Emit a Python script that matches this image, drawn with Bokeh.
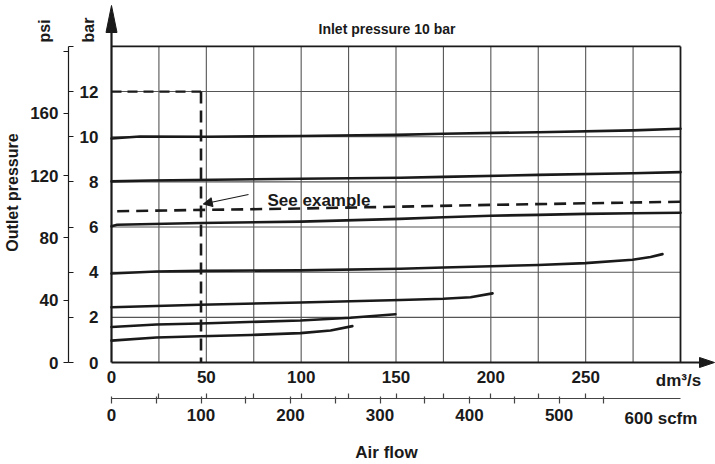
import math
from bokeh.plotting import figure
from bokeh.models import Range1d, LinearAxis, FixedTicker, Label, Arrow, NormalHead
from bokeh.embed import file_html
from bokeh.resources import INLINE

# ---------------- data ----------------
flow_label_ticks = [0, 50, 100, 150, 200, 250]              # dm3/s
flow_grid = [25, 50, 75, 100, 125, 150, 175, 200, 225, 250, 275]
flow_max = 300
bar_grid = [2, 4, 6, 8, 10, 12]
bar_ticks = [0, 2, 4, 6, 8, 10, 12, 14]
bar_label_ticks = [0, 2, 4, 6, 8, 10, 12]
bar_max = 14
psi_ticks = [0, 40, 80, 120, 160, 200]
scfm_ticks = [0, 50, 100, 150, 200, 250, 300, 350, 400, 450, 500, 550]
scfm_label_ticks = [0, 100, 200, 300, 400, 500]
PSI_PER_BAR = 14.5038
SCFM_PER_DM3S = 2.11888

# outlet pressure curves (x: dm3/s, y: bar)
c10_x = [0, 15, 50, 100, 150, 175, 225, 275, 300]
c10_y = [9.92, 10.01, 10.0, 10.03, 10.08, 10.13, 10.20, 10.28, 10.35]
c8_x = [0, 20.6, 99.6, 152.4, 175, 225, 274.7, 300]
c8_y = [8.02, 8.06, 8.14, 8.18, 8.22, 8.31, 8.38, 8.43]
c6_x = [0, 3, 47, 100, 152, 175, 200, 225, 250, 275, 300]
c6_y = [6.03, 6.10, 6.18, 6.24, 6.36, 6.43, 6.50, 6.54, 6.58, 6.61, 6.63]
c4_x = [0, 23.7, 46.9, 99.6, 152.4, 175, 225, 249.8, 274.7, 284.2, 290.5]
c4_y = [3.94, 4.03, 4.06, 4.08, 4.15, 4.21, 4.32, 4.40, 4.55, 4.67, 4.80]
c3_x = [0, 46.9, 99.6, 152.4, 175, 189.3, 200.9]
c3_y = [2.45, 2.56, 2.66, 2.77, 2.82, 2.89, 3.06]
c2_x = [0, 23.7, 46.9, 99.6, 126, 149.7]
c2_y = [1.57, 1.68, 1.73, 1.86, 1.98, 2.14]
c1_x = [0, 23.7, 46.9, 73.3, 99.6, 115.5, 127]
c1_y = [0.97, 1.11, 1.16, 1.22, 1.30, 1.42, 1.61]
# example (dashed) curve
ex_curve_x = [3, 50, 100, 150, 200, 250, 300]
ex_curve_y = [6.70, 6.76, 6.82, 6.90, 6.98, 7.05, 7.12]
# example reading: 100 scfm at 12 bar
ex_flow_scfm = 100
ex_inlet_bar = 12

# ---------------- layout helpers (page pixel -> data) ----------------
W, H = 715, 464
SX = (680 - 111) / flow_max      # px per dm3/s
SY = 22.58                       # px per bar
def PX(px):
    return (px - 111) / SX
def PY(py):
    return (362 - py) / SY

X0, X1 = PX(0), PX(W)
Y0, Y1 = PY(H), PY(0)

INK = "#1a1a1a"
GRID = "#555555"
FONT = "Liberation Sans"

p = figure(width=W, height=H, x_range=Range1d(X0, X1), y_range=Range1d(Y0, Y1),
           x_axis_type=None, y_axis_type=None, min_border=0, title=None,
           toolbar_location=None, output_backend="svg", outline_line_color=None)
p.grid.visible = False
p.background_fill_color = "white"
p.border_fill_color = "white"
p.extra_y_ranges = {"psi": Range1d(Y0 * PSI_PER_BAR, Y1 * PSI_PER_BAR)}
p.extra_x_ranges = {"scfm": Range1d(X0 * SCFM_PER_DM3S, X1 * SCFM_PER_DM3S)}

# ---------------- grid ----------------
p.segment(x0=flow_grid, y0=[0] * len(flow_grid), x1=flow_grid, y1=[bar_max] * len(flow_grid),
          line_color=GRID, line_width=1.1)
p.segment(x0=[0] * len(bar_grid), y0=bar_grid, x1=[flow_max] * len(bar_grid), y1=bar_grid,
          line_color=GRID, line_width=1.1)

# frame
p.segment(x0=[0, flow_max], y0=[bar_max, 0], x1=[flow_max, flow_max], y1=[bar_max, bar_max],
          line_color=INK, line_width=1.8)
# axis lines with arrows
y_arrow_base = PY(32)
x_arrow_base = PX(699)
p.segment(x0=[0], y0=[0], x1=[0], y1=[y_arrow_base], line_color=INK, line_width=2.2)
p.segment(x0=[0], y0=[0], x1=[x_arrow_base], y1=[0], line_color=INK, line_width=2.2)
hw = 5.5 / SX
p.patch(x=[-hw, 0, hw], y=[y_arrow_base, PY(5), y_arrow_base], color=INK)
hh = 5.0 / SY
p.patch(x=[x_arrow_base, PX(714), x_arrow_base], y=[-hh, 0, hh], color=INK)

# ---------------- curves ----------------
for xs, ys in [(c10_x, c10_y), (c8_x, c8_y), (c6_x, c6_y), (c4_x, c4_y),
               (c3_x, c3_y), (c2_x, c2_y), (c1_x, c1_y)]:
    p.line(xs, ys, line_color=INK, line_width=2.6, line_join="round", line_cap="round")

p.line(ex_curve_x, ex_curve_y, line_color=INK, line_width=2.6, line_dash="12 7")
ex_flow = ex_flow_scfm / SCFM_PER_DM3S
p.line([0, ex_flow], [ex_inlet_bar, ex_inlet_bar], line_color=INK, line_width=2.2, line_dash="10 6")
p.line([ex_flow, ex_flow], [ex_inlet_bar, 0], line_color=INK, line_width=2.6, line_dash="12 7")

p.add_layout(Arrow(end=NormalHead(size=9, line_color=INK, fill_color=INK, line_width=1),
                   x_start=PX(248), y_start=PY(194), x_end=ex_flow + 1.2, y_end=PY(203.5),
                   line_color=INK, line_width=1.2))
p.add_layout(Label(x=PX(267), y=PY(200), text="See example", text_align="left",
                   text_baseline="alphabetic", text_font=FONT, text_font_style="bold",
                   text_font_size="17px", text_color=INK))

# ---------------- axes ----------------
def style(ax, size="17px"):
    ax.major_label_text_font = FONT
    ax.major_label_text_font_style = "bold"
    ax.major_label_text_font_size = size
    ax.major_label_text_color = INK
    ax.minor_tick_line_color = None
    ax.major_tick_line_color = INK
    ax.axis_line_color = INK

axis_x = PX(68)
# psi axis
psi_ax = LinearAxis(y_range_name="psi", fixed_location=axis_x,
                    ticker=FixedTicker(ticks=psi_ticks),
                    major_label_overrides={200: ""},
                    bounds=(0, bar_max * PSI_PER_BAR))
style(psi_ax)
psi_ax.major_tick_out = 5
psi_ax.major_tick_in = 0
psi_ax.major_label_standoff = 5
psi_ax.axis_line_width = 1.2
psi_ax.major_tick_line_width = 1.2
p.add_layout(psi_ax, "left")

# bar tick marks on the same line (pointing right)
bar_tick_ax = LinearAxis(fixed_location=axis_x, ticker=FixedTicker(ticks=bar_ticks),
                         major_label_overrides={t: "" for t in bar_ticks})
style(bar_tick_ax)
bar_tick_ax.axis_line_color = None
bar_tick_ax.major_tick_out = 5
bar_tick_ax.major_tick_in = 0
bar_tick_ax.major_tick_line_width = 1.2
p.add_layout(bar_tick_ax, "right")

# bar labels next to the frame
bar_ax = LinearAxis(fixed_location=0, ticker=FixedTicker(ticks=bar_label_ticks))
style(bar_ax)
bar_ax.axis_line_color = None
bar_ax.major_tick_line_color = None
bar_ax.major_tick_out = 0
bar_ax.major_tick_in = 0
bar_ax.major_label_standoff = 13
p.add_layout(bar_ax, "left")

# dm3/s labels
flow_ax = LinearAxis(fixed_location=0, ticker=FixedTicker(ticks=flow_label_ticks))
style(flow_ax)
flow_ax.axis_line_color = None
flow_ax.major_tick_line_color = None
flow_ax.major_tick_out = 0
flow_ax.major_tick_in = 0
flow_ax.major_label_standoff = 8
p.add_layout(flow_ax, "below")

scfm_y = PY(398.3)
scfm_ax = LinearAxis(x_range_name="scfm", fixed_location=scfm_y,
                     ticker=FixedTicker(ticks=scfm_ticks),
                     major_label_overrides={t: "" for t in scfm_ticks if t not in scfm_label_ticks},
                     bounds=(0, flow_max * SCFM_PER_DM3S))
style(scfm_ax)
scfm_ax.axis_line_color = "#444444"
scfm_ax.axis_line_width = 1.2
scfm_ax.major_tick_line_color = "#444444"
scfm_ax.major_tick_line_width = 1.2
scfm_ax.major_tick_out = 5
scfm_ax.major_tick_in = 2
scfm_ax.major_label_standoff = 5
p.add_layout(scfm_ax, "below")

flow_tick_ax = LinearAxis(fixed_location=scfm_y, ticker=FixedTicker(ticks=flow_grid[:-1]),
                          major_label_overrides={t: "" for t in flow_grid})
style(flow_tick_ax)
flow_tick_ax.axis_line_color = None
flow_tick_ax.major_tick_line_color = "#444444"
flow_tick_ax.major_tick_line_width = 1.2
flow_tick_ax.major_tick_out = 0
flow_tick_ax.major_tick_in = 5
p.add_layout(flow_tick_ax, "below")

# ---------------- texts ----------------
def lab(x, y, text, size="17px", align="center", baseline="middle", angle=0.0):
    p.add_layout(Label(x=x, y=y, text=text, text_align=align, text_baseline=baseline,
                       angle=angle, text_font=FONT, text_font_style="bold",
                       text_font_size=size, text_color=INK))

lab(PX(386.5), PY(28), "Inlet pressure 10 bar", size="14px", baseline="alphabetic")
lab(PX(3), PY(192), "Outlet pressure", size="16px", baseline="top", angle=math.pi / 2)
lab(PX(44), PY(42), "psi", size="16px", align="left", angle=math.pi / 2)
lab(PX(87.5), PY(42), "bar", size="16px", align="left", angle=math.pi / 2)
lab(PX(678), PY(380), "dm³/s")
lab(PX(660.5), PY(417.5), "600 scfm")
lab(PX(386), PY(452), "Air flow", baseline="middle")

open("out.html", "w").write(file_html(p, INLINE))
